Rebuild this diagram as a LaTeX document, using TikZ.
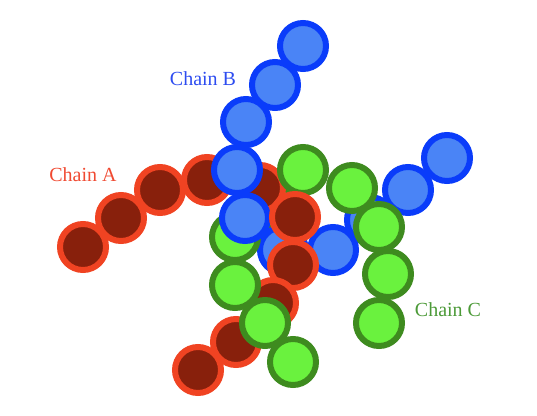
\documentclass[tikz,border=0pt]{standalone}
\usepackage{fontspec}
\setmainfont{Liberation Serif}
\definecolor{redline}{HTML}{F04322}
\definecolor{redfill}{HTML}{88200C}
\definecolor{blueline}{HTML}{0A3CFA}
\definecolor{bluefill}{HTML}{4A84F6}
\definecolor{greenline}{HTML}{3E8B1F}
\definecolor{greenfill}{HTML}{6AF23E}
\definecolor{redtext}{HTML}{F04A32}
\definecolor{bluetext}{HTML}{2D4CF0}
\definecolor{greentext}{HTML}{4C9A38}

\tikzset{
  redbead/.style={draw=redline, fill=redfill, line width=6pt},
  bluebead/.style={draw=blueline, fill=bluefill, line width=6pt},
  greenbead/.style={draw=greenline, fill=greenfill, line width=6pt},
  chainlabel/.style={anchor=base, font=\fontsize{20}{24}\selectfont}
}

\begin{document}
\begin{tikzpicture}[x=1pt, y=-1pt]

% Page (pixel coordinates, y downwards)
\useasboundingbox (0,0) rectangle (537,415);

% Hidden bead of chain C
\filldraw[greenbead] (270,205) circle (23pt);

% Chain B, tail (lies under the others)
\foreach \x/\y in {283/250, 333/250, 370/220, 408/190, 447/158} {
  \filldraw[bluebead] (\x,\y) circle (23pt);
}

% Chain A, first half
\foreach \x/\y in {83/247, 121/218, 160/190, 207/180, 260/188} {
  \filldraw[redbead] (\x,\y) circle (23pt);
}

% Chain C, right arm
\foreach \x/\y in {379/323, 388/274, 379/227, 352/188, 303/170, 235/237} {
  \filldraw[greenbead] (\x,\y) circle (23pt);
}

% Chain B, head
\foreach \x/\y in {303/46, 275/85, 246/122, 237/170, 245/218} {
  \filldraw[bluebead] (\x,\y) circle (23pt);
}

% Chain A, second half
\foreach \x/\y in {295/217, 293/265, 273/303, 236/342, 198/370} {
  \filldraw[redbead] (\x,\y) circle (23pt);
}

% Chain C, lower arm
\foreach \x/\y in {235/285, 265/323, 293/362} {
  \filldraw[greenbead] (\x,\y) circle (23pt);
}

% Labels
\node[chainlabel, text=redtext] (labelA) at (83,181.5) {Chain A};
\node[chainlabel, text=bluetext] (labelB) at (203,85.5) {Chain B};
\node[chainlabel, text=greentext] (labelC) at (448,316) {Chain C};

\end{tikzpicture}
\end{document}
